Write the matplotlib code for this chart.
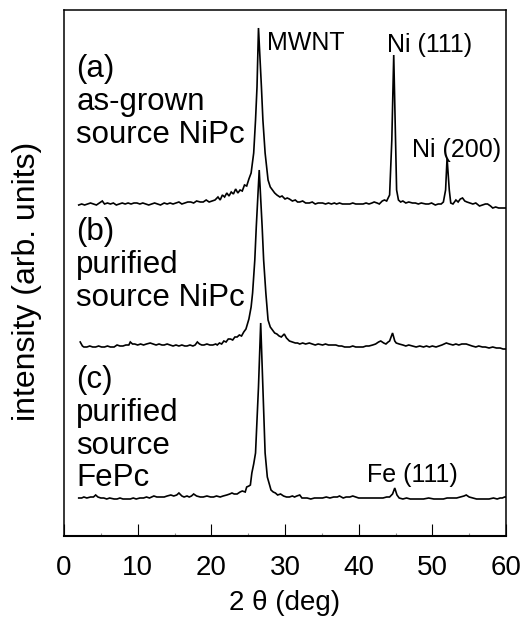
import matplotlib
matplotlib.use("Agg")
import matplotlib.pyplot as plt
from matplotlib.ticker import MultipleLocator

plt.rcParams['font.family'] = ['Liberation Sans', 'DejaVu Sans']

# ---------------- data (2theta in deg, intensity in arb. units) ----------------
two_theta_a = [2.0, 2.4, 2.8, 3.2, 3.6, 4.0, 4.4, 4.8, 5.2, 5.5, 5.9, 6.3, 6.7, 7.1, 7.5, 7.9,
               8.3, 8.7, 9.1, 9.5, 9.9, 10.3, 10.7, 11.1, 11.5, 11.9, 12.3, 12.7, 13.1, 13.6,
               14.0, 14.4, 14.8, 15.2, 15.6, 16.0, 16.4, 16.8, 17.2, 17.6, 18.0, 18.5, 18.9,
               19.3, 19.7, 20.1, 20.5, 20.9, 21.2, 21.5, 21.8, 22.1, 22.4, 22.7, 23.0, 23.3,
               23.6, 23.9, 24.2, 24.5, 24.8, 25.1, 25.4, 25.75, 26.0, 26.2, 26.4, 26.8, 27.0,
               27.3, 27.7, 28.0, 28.3, 28.6, 28.9, 29.3, 29.6, 30.0, 30.3, 30.6, 31.0, 31.4,
               31.7, 32.0, 32.4, 32.8, 33.3, 33.7, 34.1, 34.5, 35.1, 35.5, 35.9, 36.3, 36.7,
               37.0, 37.4, 37.8, 38.2, 38.8, 39.2, 39.6, 40.0, 40.6, 41.0, 41.4, 41.8, 42.1,
               42.5, 42.8, 43.2, 43.5, 43.8, 44.2, 44.5, 44.76, 45.0, 45.15, 45.4, 45.7, 46.0,
               46.4, 46.8, 47.3, 47.7, 48.1, 48.5, 49.1, 49.5, 49.9, 50.4, 50.8, 51.2, 51.5,
               51.8, 52.0, 52.3, 52.5, 52.8, 53.2, 53.5, 53.8, 54.1, 54.4, 54.7, 55.1, 55.5,
               55.9, 56.4, 56.8, 57.2, 57.5, 57.9, 58.2, 58.6, 59.0, 59.5, 60.0]
intensity_a = [0, 1, 0, 1, 2, 1, 0, 2, 4, 1, 2, 1, 2, 0, 1, 2,
               1, 2, 1, 2, 2, 1, 2, 1, 0, 1, 2, 1, 0, 2,
               1, 2, 1, 2, 3, 1, 2, 3, 3, 2, 4, 3, 3,
               5, 3, 4, 5, 8, 5, 10, 8, 12, 9, 13, 11, 16,
               12, 15, 14, 20, 19, 26, 32, 52, 85, 118, 177, 118, 85,
               52, 25, 18, 15, 12, 10, 8, 9, 6, 7, 6, 4, 5,
               3, 3, 4, 2, 2, 3, 1, 2, 2, 1, 2, 1, 2,
               1, 2, 1, 1, 1, 2, 1, 1, 1, 2, 1, 2, 3,
               2, 1, 4, 5, 4, 10, 65, 150, 65, 15, 5, 3, 4,
               2, 3, 2, 2, 1, 2, 1, 1, 2, 0, 1, 1, 3,
               15, 47, 15, 2, 1, 5, 3, 6, 7, 4, 3, 2, 1,
               2, -1, 0, 1, 1, -1, -3, -2, -3, -3, -3]

two_theta_b = [2.2, 2.5, 2.7, 3.1, 3.5, 3.9, 4.3, 4.7, 5.1, 5.5, 5.9, 6.3, 6.8, 7.2, 7.6, 8.0,
               8.4, 8.8, 9.0, 9.3, 9.6, 10.0, 10.4, 10.8, 11.2, 11.7, 12.1, 12.5, 12.9, 13.3,
               13.6, 14.0, 14.4, 14.8, 15.2, 15.6, 16.0, 16.4, 16.7, 17.1, 17.5, 17.8, 18.1,
               18.4, 18.7, 19.0, 19.4, 19.8, 20.2, 20.6, 20.8, 21.1, 21.4, 21.7, 22.0, 22.3,
               22.6, 22.9, 23.2, 23.5, 23.8, 24.1, 24.4, 24.7, 25.1, 25.4, 25.6, 25.9, 26.1,
               26.5, 26.9, 27.1, 27.4, 27.7, 28.0, 28.3, 28.6, 28.9, 29.2, 29.5, 29.9, 30.2,
               30.6, 31.0, 31.4, 31.7, 32.0, 32.4, 32.8, 33.3, 33.7, 34.1, 34.5, 35.1, 35.5,
               35.9, 36.3, 36.9, 37.3, 37.7, 38.1, 38.8, 39.2, 39.6, 40.0, 40.6, 41.0, 41.4,
               41.9, 42.3, 42.7, 43.0, 43.4, 43.7, 44.0, 44.2, 44.6, 44.9, 45.1, 45.5, 46.0,
               46.4, 46.8, 47.3, 47.8, 48.3, 48.8, 49.2, 49.6, 50.0, 50.5, 50.9, 51.3, 51.9,
               52.3, 52.8, 53.2, 53.6, 54.0, 54.3, 54.6, 55.0, 55.4, 55.9, 56.3, 56.8, 57.2,
               57.7, 58.2, 58.7, 59.2, 59.6, 60.0]
intensity_b = [5, 1, 0, 0, 1, 0, 0, 1, 0, 0, 1, 0, 0, 2, 1, 1,
               2, 2, 5, 3, 3, 2, 3, 2, 3, 4, 3, 2, 3, 2,
               2, 3, 2, 1, 2, 1, 2, 1, 1, 2, 1, 2, 5,
               3, 2, 2, 3, 2, 2, 3, 2, 4, 3, 6, 5, 8,
               8, 7, 10, 10, 12, 11, 15, 18, 28, 40, 54, 87, 120,
               177, 120, 87, 54, 27, 20, 17, 14, 13, 11, 10, 13, 9,
               6, 5, 4, 4, 3, 4, 3, 4, 3, 2, 3, 2, 3,
               2, 2, 2, 1, 1, 0, 0, 1, 0, 0, 0, 1, 1,
               2, 3, 5, 6, 4, 3, 5, 6, 14, 6, 4, 3, 2,
               1, 2, 1, 0, 1, 0, 1, 0, 1, 0, 1, 2, 4,
               3, 2, 3, 2, 3, 3, 3, 2, 1, 0, 1, 0, 0,
               -1, 0, -1, -1, -2, -2]

two_theta_c = [2.0, 2.4, 2.7, 3.1, 3.6, 4.0, 4.3, 4.6, 5.0, 5.4, 5.8, 6.2, 6.8, 7.2, 7.6, 8.0,
               8.5, 9.0, 9.4, 9.8, 10.3, 10.8, 11.2, 11.6, 12.2, 12.6, 13.0, 13.6, 14.0, 14.5,
               14.9, 15.3, 15.6, 16.0, 16.3, 16.7, 17.0, 17.3, 17.6, 18.0, 18.5, 18.9, 19.4,
               19.9, 20.3, 20.7, 21.2, 21.6, 22.1, 22.5, 22.8, 23.1, 23.5, 23.9, 24.2, 24.6,
               24.8, 25.1, 25.3, 25.5, 25.75, 26.0, 26.2, 26.4, 26.7, 27.0, 27.15, 27.3, 27.6,
               28.1, 28.4, 28.7, 29.0, 29.4, 29.8, 30.2, 30.6, 31.0, 31.3, 31.6, 32.0, 32.3,
               32.6, 33.0, 33.5, 34.0, 34.5, 35.1, 35.6, 36.1, 36.6, 37.1, 37.4, 37.9, 38.3,
               38.8, 39.2, 39.6, 40.0, 40.6, 41.1, 41.6, 42.2, 42.7, 43.3, 43.8, 44.2, 44.6,
               44.9, 45.2, 45.5, 46.0, 46.5, 47.0, 47.5, 48.0, 48.8, 49.5, 50.2, 51.0, 51.5,
               52.0, 52.6, 53.3, 53.8, 54.3, 54.6, 55.0, 55.5, 56.0, 56.6, 57.2, 57.7, 58.3,
               58.8, 59.2, 59.5, 59.8, 60.0]
intensity_c = [1, 1, 2, 1, 2, 2, 4, 2, 1, 1, 0, 1, 0, 0, 1, 0,
               0, 0, 1, 0, 1, 1, 2, 1, 3, 2, 2, 2, 3, 4,
               3, 4, 6, 3, 2, 3, 2, 3, 5, 3, 2, 2, 3,
               2, 2, 3, 2, 3, 4, 5, 6, 5, 5, 7, 8, 7,
               12, 13, 14, 26, 35, 46, 79, 112, 176, 112, 79, 46, 22,
               9, 7, 6, 4, 5, 3, 2, 2, 3, 2, 3, 4, 1,
               1, 1, 0, 1, 1, 1, 2, 1, 2, 2, 3, 1, 2,
               2, 3, 2, 1, 1, 1, 1, 1, 1, 1, 2, 2, 5,
               11, 4, 1, 0, 1, 0, 0, 0, 0, 1, 0, 0, 0,
               1, 1, 1, 2, 3, 4, 2, 1, 0, 0, 0, 0, 1,
               0, 1, 1, 2, 2]

offset_a = 331
offset_b = 189
offset_c = 37

panel_labels = {
    'a': ["(a)", "as-grown", "source NiPc"],
    'b': ["(b)", "purified", "source NiPc"],
    'c': ["(c)", "purified", "source", "FePc"],
}
peak_labels = ["MWNT", "Ni (111)", "Ni (200)", "Fe (111)"]
xticks = [0, 10, 20, 30, 40, 50, 60]

# ---------------- figure ----------------
fig = plt.figure(figsize=(5.24, 6.21), dpi=100)
ax = fig.add_axes([64/524, 1-536/621, 442/524, 526/621])

for tt, inten, off in [(two_theta_a, intensity_a, offset_a),
                       (two_theta_b, intensity_b, offset_b),
                       (two_theta_c, intensity_c, offset_c)]:
    ax.plot(tt, [v + off for v in inten], color='black', lw=1.2,
            solid_joinstyle='miter')

ax.set_xlim(0, 60)
ax.set_ylim(0, 526)
ax.set_yticks([])
ax.set_xticks(xticks)
ax.xaxis.set_minor_locator(MultipleLocator(5))
ax.tick_params(axis='x', which='major', direction='in', length=9, width=0.8,
               labelsize=20, pad=14)
ax.tick_params(axis='x', which='minor', direction='in', length=2.5, width=0.8,
               color='0.55')
for s in ax.spines.values():
    s.set_linewidth(1.1)
ax.spines['bottom'].set_linewidth(1.5)

ax.set_xlabel("2 θ (deg)", fontsize=20, labelpad=6)
ax.text(-0.084, 0.485, "intensity (arb. units)", transform=ax.transAxes,
        rotation=90, ha='center', va='center', fontsize=23)

# panel labels (baselines in axis units)
def put_lines(lines, y0, dy=32.8):
    for i, t in enumerate(lines):
        ax.text(1.65, y0 - i*dy, t, fontsize=22.5, ha='left', va='baseline')

put_lines(panel_labels['a'], 459)
put_lines(panel_labels['b'], 296)
put_lines(panel_labels['c'], 148)

ax.text(27.6, 486, peak_labels[0], fontsize=18, ha='left', va='baseline')
ax.text(43.8, 484, peak_labels[1], fontsize=18, ha='left', va='baseline')
ax.text(47.3, 379, peak_labels[2], fontsize=18, ha='left', va='baseline')
ax.text(41.1, 54, peak_labels[3], fontsize=18, ha='left', va='baseline')

fig.savefig("out.png", dpi=100)
